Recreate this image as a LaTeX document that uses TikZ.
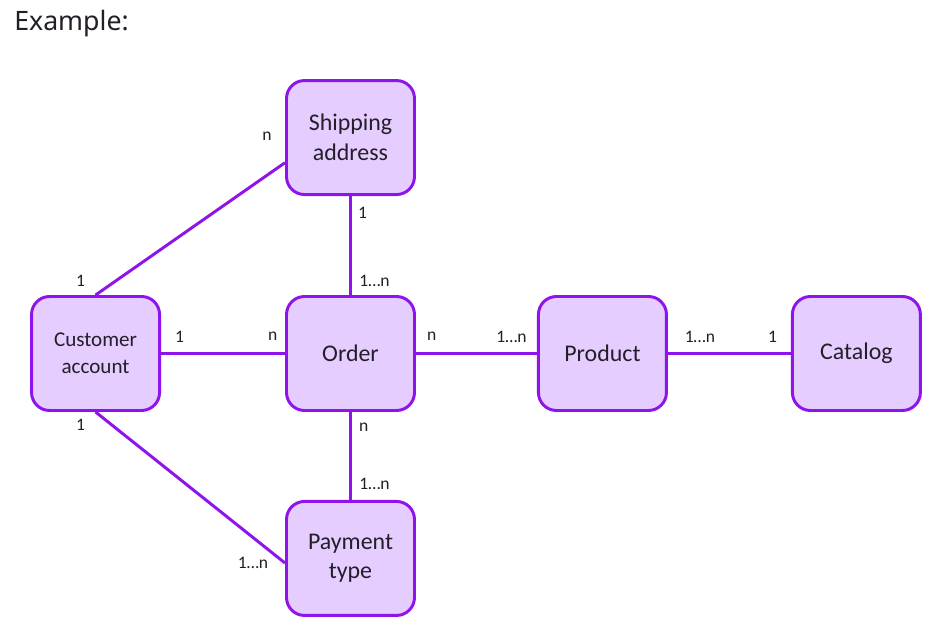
\documentclass[tikz,border=0pt]{standalone}
\usepackage{fontspec}
\setmainfont{Carlito}
\newfontfamily\titlefont{Noto Sans}
\usetikzlibrary{positioning}
\definecolor{erline}{RGB}{143,20,235}
\definecolor{erfill}{RGB}{230,205,255}
\definecolor{ertext}{RGB}{35,30,40}

\begin{document}
\begin{tikzpicture}[
    node distance=2.5cm,
    entity/.style={rectangle,rounded corners=0.45cm,draw=erline,fill=erfill,line width=2.1pt,
                   minimum width=3.2cm,minimum height=2.85cm,align=center,text=ertext,
                   font=\fontsize{17}{21}\selectfont},
    link/.style={draw=erline,line width=2.1pt},
    card/.style={font=\fontsize{12.5}{14}\selectfont,text=ertext,inner sep=1pt}
]
\useasboundingbox (-8.7625,-6.8125) rectangle (14.6375,8.8375);

%--- Title ---%
\node[anchor=base west,inner sep=0,font=\titlefont\fontsize{19}{23}\selectfont,text=ertext]
    (title) at (-8.4125,8.0625) {Example:};

%--- Entities ---%
\node[entity] (order) {Order};
\node[entity,left=3.1cm of order,font=\fontsize{15}{19}\selectfont] (cust) {Customer\\account};
\node[entity,above=2.475cm of order] (ship) {Shipping\\address};
\node[entity,below=2.2cm of order] (pay) {Payment\\type};
\node[entity,right=3.025cm of order] (prod) {Product};
\node[entity,right=3.075cm of prod] (cat) {Catalog};

%--- Relations from the customer account ---%
\draw[link] (cust.north) -- node[card,pos=0,xshift=-0.375cm,yshift=0.35cm] (c1) {1}
    node[card,pos=1,xshift=-0.45cm,yshift=0.65cm] (c2) {n} (ship.201);
\draw[link] (cust) -- node[card,pos=0.15,yshift=0.425cm] (c3) {1}
    node[card,pos=0.9,yshift=0.425cm] (c4) {n} (order);
\draw[link] (cust.south) -- node[card,pos=0,xshift=-0.375cm,yshift=-0.325cm] (c5) {1}
    node[card,pos=1,xshift=-0.8cm] (c6) {1…n} (pay.184);

%--- Relations around the order ---%
\draw[link] (ship) -- node[card,pos=0.17,xshift=0.3cm] (c7) {1}
    node[card,pos=0.86,xshift=0.6cm] (c8) {1…n} (order);
\draw[link] (order) -- node[card,pos=0.17,xshift=0.33cm] (c9) {n}
    node[card,pos=0.82,xshift=0.6cm] (c10) {1…n} (pay);
\draw[link] (order) -- node[card,pos=0.13,yshift=0.425cm] (c11) {n}
    node[card,pos=0.79,yshift=0.425cm] (c12) {1…n} (prod);

%--- Product and catalog ---%
\draw[link] (prod) -- node[card,pos=0.26,yshift=0.425cm] (c13) {1…n}
    node[card,pos=0.85,yshift=0.425cm] (c14) {1} (cat);

\end{tikzpicture}
\end{document}
